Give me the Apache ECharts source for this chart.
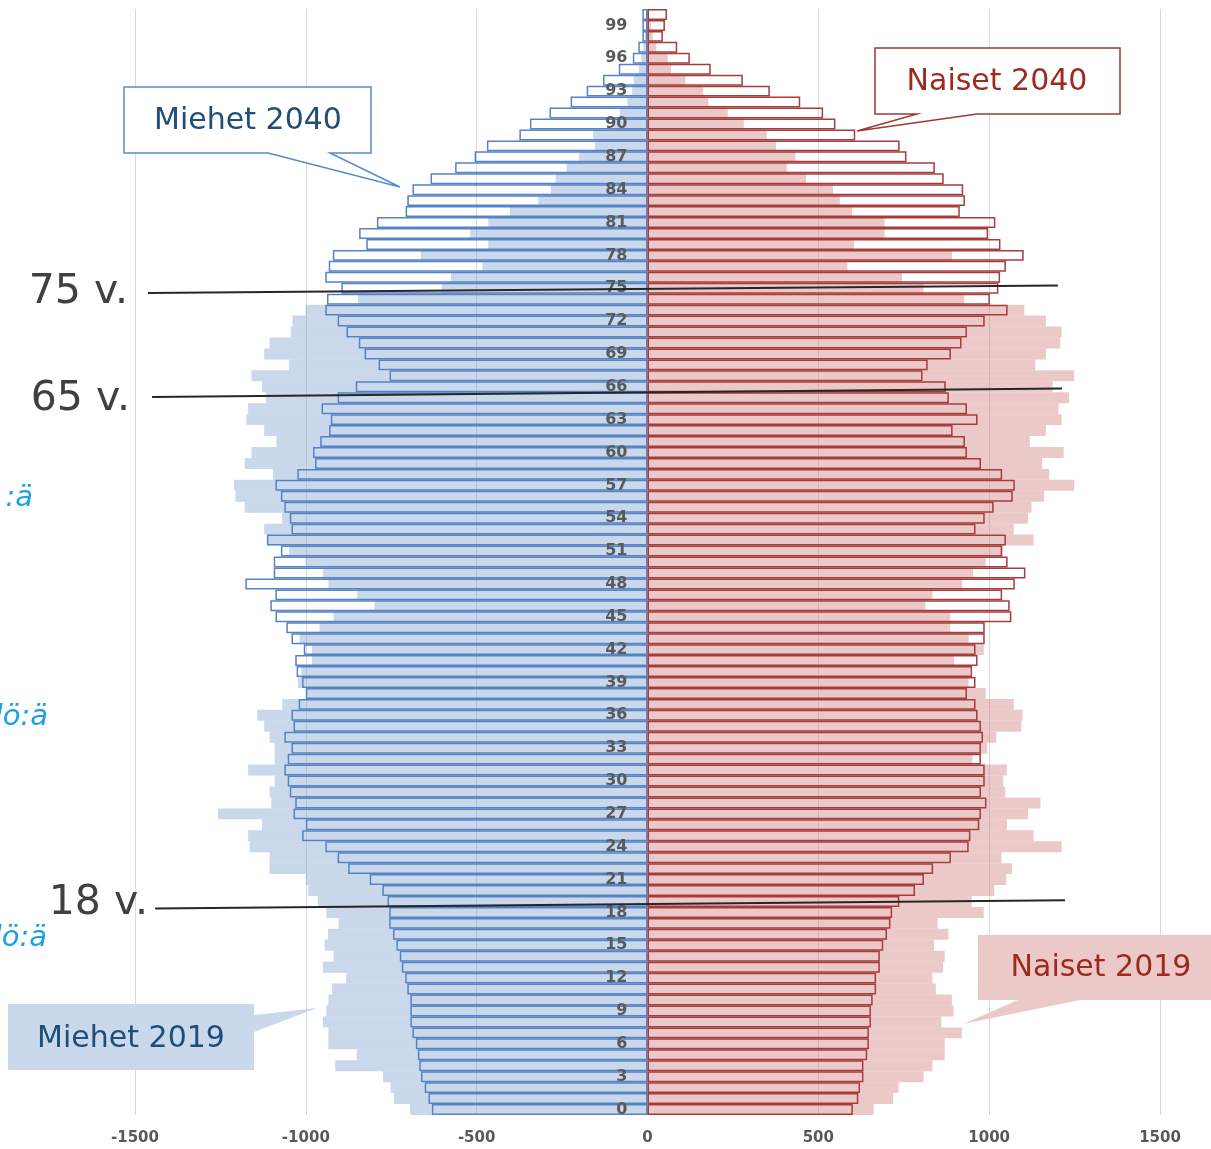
<!DOCTYPE html>
<html lang="fi" style="height: 100%">
<head>
    <meta charset="utf-8">
</head>
<body style="height: 100%; margin: 0; overflow: hidden; background: #fff">
<div id="container" style="height: 1149px; width: 1211px"></div>

<script type="text/javascript" src="https://cdn.jsdelivr.net/npm/echarts@6/dist/echarts.min.js"></script>

<script type="text/javascript">
    // ikäluokat 0-100
    var ages = ['0', '1', '2', '3', '4', '5', '6', '7', '8', '9',
      '10', '11', '12', '13', '14', '15', '16', '17', '18', '19',
      '20', '21', '22', '23', '24', '25', '26', '27', '28', '29',
      '30', '31', '32', '33', '34', '35', '36', '37', '38', '39',
      '40', '41', '42', '43', '44', '45', '46', '47', '48', '49',
      '50', '51', '52', '53', '54', '55', '56', '57', '58', '59',
      '60', '61', '62', '63', '64', '65', '66', '67', '68', '69',
      '70', '71', '72', '73', '74', '75', '76', '77', '78', '79',
      '80', '81', '82', '83', '84', '85', '86', '87', '88', '89',
      '90', '91', '92', '93', '94', '95', '96', '97', '98', '99', '100'];

    var miehet2019 = [695, 742, 752, 774, 914, 851, 934, 934, 950, 940,
      934, 923, 882, 950, 919, 945, 935, 904, 940, 965,
      993, 1000, 1106, 1106, 1164, 1169, 1128, 1257, 1101, 1106,
      1091, 1169, 1091, 1091, 1106, 1122, 1142, 1069, 1000, 1023,
      1013, 982, 982, 1018, 960, 919, 799, 850, 934, 950,
      1001, 1049, 1112, 1122, 1069, 1179, 1206, 1210, 1096, 1179,
      1159, 1086, 1122, 1174, 1169, 1117, 1128, 1159, 1049, 1122,
      1106, 1044, 1039, 1001, 847, 602, 575, 483, 663, 466,
      519, 466, 403, 320, 283, 269, 237, 200, 154, 159,
      98, 81, 59, 45, 40, 25, 18, 12, 8, 5, 3];

    var naiset2019 = [662, 719, 735, 808, 834, 870, 870, 920, 860, 896,
      891, 844, 834, 865, 870, 839, 881, 849, 984, 949,
      1015, 1050, 1067, 1036, 1212, 1130, 1052, 1114, 1150, 1047,
      1041, 1052, 951, 994, 1021, 1094, 1098, 1072, 990, 940,
      945, 897, 984, 940, 886, 886, 813, 834, 921, 953,
      990, 1040, 1130, 1072, 1114, 1124, 1161, 1249, 1176, 1155,
      1218, 1119, 1166, 1212, 1203, 1234, 1186, 1249, 1135, 1166,
      1208, 1212, 1166, 1103, 927, 808, 745, 585, 891, 605,
      694, 694, 599, 563, 543, 464, 408, 433, 376, 349,
      282, 235, 178, 163, 111, 69, 59, 26, 15, 10, 5];

    var miehet2040 = [631, 641, 652, 663, 668, 672, 678, 688, 694, 694,
      694, 703, 709, 719, 725, 735, 745, 756, 756, 761,
      776, 813, 876, 907, 943, 1011, 1000, 1036, 1031, 1047,
      1053, 1063, 1053, 1042, 1063, 1036, 1042, 1021, 1000, 1011,
      1027, 1031, 1006, 1042, 1057, 1089, 1104, 1089, 1177, 1094,
      1094, 1073, 1114, 1042, 1047, 1063, 1073, 1089, 1025, 973,
      979, 958, 932, 927, 954, 907, 854, 755, 787, 828,
      845, 881, 907, 943, 938, 896, 943, 933, 921, 823,
      844, 792, 708, 703, 688, 635, 563, 506, 470, 375,
      344, 287, 225, 178, 130, 84, 43, 27, 15, 15, 15];

    var naiset2040 = [601, 617, 622, 632, 632, 643, 648, 648, 654, 654,
      659, 669, 669, 680, 680, 690, 701, 711, 716, 737,
      783, 809, 836, 888, 940, 945, 971, 976, 992, 976,
      987, 987, 976, 976, 982, 976, 966, 960, 935, 960,
      950, 966, 960, 987, 987, 1065, 1060, 1038, 1075, 1106,
      1054, 1038, 1049, 960, 987, 1013, 1069, 1075, 1038, 976,
      935, 929, 893, 966, 935, 882, 873, 805, 820, 888,
      919, 935, 987, 1054, 1002, 1027, 1032, 1049, 1101, 1033,
      997, 1018, 914, 929, 924, 867, 841, 758, 738, 608,
      550, 514, 447, 358, 279, 185, 124, 87, 45, 51, 57];

    // ikärajaviivat: [x, ikä] alku ja loppu
    var ikarajat = [
      { teksti: '75 v.', alku: [-1462, 74.56], loppu: [1201, 75.25], tx: 128, ty: 292 },
      { teksti: '65 v.', alku: [-1450, 65.06], loppu: [1213, 65.84], tx: 130, ty: 399 },
      { teksti: '18 v.', alku: [-1441, 18.36], loppu: [1222, 19.10], tx: 148, ty: 903 }
    ];

    var dom = document.getElementById('container');
    var myChart = echarts.init(dom, null, { renderer: 'canvas' });

    function neg(arr) {
      return arr.map(function (v) { return -v; });
    }

    var FONT = '"DejaVu Sans", Verdana, sans-serif';

    function callout(points, fill, stroke, text, tx, ty, color) {
      return [
        {
          type: 'polygon',
          z: 100,
          shape: { points: points },
          style: { fill: fill, stroke: stroke, lineWidth: stroke ? 1.5 : 0 }
        },
        {
          type: 'text',
          z: 101,
          x: tx,
          y: ty,
          style: {
            text: text, fill: color, font: '30px ' + FONT,
            align: 'center', verticalAlign: 'middle',
            textAlign: 'center', textVerticalAlign: 'middle'
          }
        }
      ];
    }

    var option = {
      animation: false,
      grid: { left: 135, right: 51, top: 9, bottom: 34, containLabel: false },
      xAxis: {
        type: 'value',
        min: -1500,
        max: 1500,
        interval: 500,
        axisLine: { show: false },
        axisTick: { show: false },
        splitLine: { lineStyle: { color: '#d9d9d9', width: 1 } },
        axisLabel: {
          color: '#595959', fontSize: 15, fontWeight: 'bold', fontFamily: FONT, margin: 16,
          formatter: function (v) { return String(v); }
        }
      },
      yAxis: {
        type: 'category',
        data: ages,
        z: 10,
        position: 'left',
        offset: -512.5,
        axisLine: { show: false, onZero: false },
        axisTick: { show: false },
        axisLabel: { interval: 2, color: '#5a5a5a', fontSize: 16, fontWeight: 'bold', fontFamily: FONT, margin: 20 }
      },
      series: [
        {
          name: 'Miehet 2019', type: 'bar', data: neg(miehet2019),
          barGap: '-100%', barCategoryGap: '0%',
          itemStyle: { color: 'rgba(120,158,205,0.4)' }
        },
        {
          name: 'Naiset 2019', type: 'bar', data: naiset2019,
          barGap: '-100%', barCategoryGap: '0%',
          itemStyle: { color: 'rgba(208,120,120,0.4)' }
        },
        {
          name: 'Miehet 2040', type: 'bar', data: neg(miehet2040),
          barGap: '-100%', barCategoryGap: '0%',
          itemStyle: { color: 'rgba(255,255,255,0)', borderColor: '#5683c4', borderWidth: 1.5 }
        },
        {
          name: 'Naiset 2040', type: 'bar', data: naiset2040,
          barGap: '-100%', barCategoryGap: '0%',
          itemStyle: { color: 'rgba(255,255,255,0)', borderColor: '#a63c3c', borderWidth: 1.5 }
        }
      ]
    };

    myChart.setOption(option);

    // selitelaatikot ja ikärajaviivat
    function pikseli(x, ika) {
      var alaraja = Math.floor(ika);
      var p0 = myChart.convertToPixel({ gridIndex: 0 }, [x, alaraja]);
      var p1 = myChart.convertToPixel({ gridIndex: 0 }, [x, alaraja + 1]);
      return [p0[0], p0[1] + (p1[1] - p0[1]) * (ika - alaraja)];
    }

    var elements = [];
    elements = elements.concat(callout(
      [[124, 87], [371, 87], [371, 153], [330, 153], [400, 187], [268, 153], [124, 153]],
      '#ffffff', '#5b8ac6', 'Miehet 2040', 248, 121, '#1f4e79'));
    elements = elements.concat(callout(
      [[875, 48], [1120, 48], [1120, 114], [977, 114], [857, 131], [917, 114], [875, 114]],
      '#ffffff', '#9e3a33', 'Naiset 2040', 997, 82, '#9e2a1f'));
    elements = elements.concat(callout(
      [[8, 1004], [254, 1004], [254, 1015], [317, 1008], [254, 1032], [254, 1070], [8, 1070]],
      '#c9d8eb', null, 'Miehet 2019', 131, 1039, '#1f4e79'));
    elements = elements.concat(callout(
      [[978, 935], [1230, 935], [1230, 1000], [1080, 1000], [963, 1024], [1018, 1000], [978, 1000]],
      '#ebc9c9', null, 'Naiset 2019', 1101, 968, '#9e2a1f'));

    ikarajat.forEach(function (r) {
      var a = pikseli(r.alku[0], r.alku[1]);
      var b = pikseli(r.loppu[0], r.loppu[1]);
      elements.push({
        type: 'line', z: 90,
        shape: { x1: a[0], y1: a[1], x2: b[0], y2: b[1] },
        style: { stroke: '#262626', lineWidth: 2 }
      });
      elements.push({
        type: 'text', z: 90, x: r.tx, y: r.ty,
        style: {
          text: r.teksti, fill: '#404040', font: '41px ' + FONT,
          align: 'right', verticalAlign: 'middle',
          textAlign: 'right', textVerticalAlign: 'middle'
        }
      });
    });

    // vasemman reunan katkenneet tekstit
    [[33, 498, ':ä'], [48, 717, 'hlö:ä'], [47, 938, 'hlö:ä']].forEach(function (p) {
      elements.push({
        type: 'text', z: 90, x: p[0], y: p[1],
        style: {
          text: p[2], fill: '#1a9fe6', font: 'italic 29px ' + FONT,
          align: 'right', verticalAlign: 'middle',
          textAlign: 'right', textVerticalAlign: 'middle'
        }
      });
    });

    myChart.setOption({ graphic: { elements: elements } });

    window.addEventListener('resize', myChart.resize);
</script>
</body>
</html>
